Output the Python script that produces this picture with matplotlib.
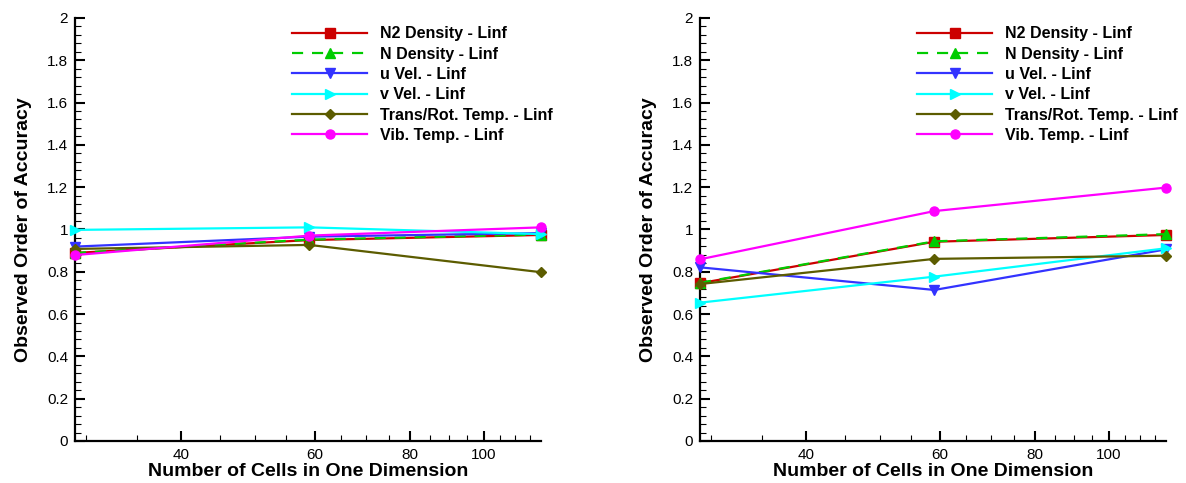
import matplotlib
matplotlib.use('agg')
import matplotlib.pyplot as plt
import matplotlib.ticker as ticker

# grid sizes used for the refinement study
cells = [29, 59, 119]

# observed order of accuracy, left case
left_n2 = [0.889, 0.950, 0.974]
left_n = [0.889, 0.952, 0.976]
left_u = [0.919, 0.966, 0.983]
left_v = [0.998, 1.010, 0.978]
left_trans = [0.908, 0.927, 0.798]
left_vib = [0.879, 0.971, 1.010]

# observed order of accuracy, right case
right_n2 = [0.746, 0.942, 0.974]
right_n = [0.748, 0.944, 0.978]
right_u = [0.821, 0.714, 0.906]
right_v = [0.654, 0.777, 0.911]
right_trans = [0.742, 0.861, 0.876]
right_vib = [0.859, 1.087, 1.198]

labels = ["N2 Density - Linf", "N Density - Linf", "u Vel. - Linf",
          "v Vel. - Linf", "Trans/Rot. Temp. - Linf", "Vib. Temp. - Linf"]

styles = [
    dict(color="#cc0000", marker="s", linestyle="-", mfc="#cc0000", mec="#cc0000"),
    dict(color="#00cc00", marker="^", linestyle=(0, (5, 4)), mfc="#00cc00", mec="#00cc00"),
    dict(color="#3333ff", marker="v", linestyle="-", mfc="#3333ff", mec="#3333ff"),
    dict(color="#00ffff", marker=">", linestyle="-", mfc="#00ffff", mec="#00ffff"),
    dict(color="#5c5c00", marker="D", linestyle="-", mfc="#5c5c00", mec="#5c5c00", markersize=5),
    dict(color="#ff00ff", marker="o", linestyle="-", mfc="#ff00ff", mec="#ff00ff"),
]

font = "Liberation Sans"
plt.rcParams['font.family'] = [font, 'DejaVu Sans']


def makePanel(ax, series):
    for y, label, style in zip(series, labels, styles):
        kw = dict(markersize=6.5, linewidth=1.6)
        kw.update(style)
        ax.plot(cells, y, label=label, clip_on=False, zorder=3, **kw)

    ax.set_xscale("log")
    ax.set_xlim(cells[0], cells[-1])
    ax.set_ylim(0, 2)

    ax.xaxis.set_major_locator(ticker.FixedLocator([40, 60, 80, 100]))
    ax.xaxis.set_minor_locator(ticker.FixedLocator([30, 35, 45, 50, 55, 65, 70, 75, 85, 90, 95, 105, 110, 115]))
    ax.xaxis.set_major_formatter(ticker.StrMethodFormatter('{x:.0f}'))
    ax.xaxis.set_minor_formatter(ticker.NullFormatter())
    ax.yaxis.set_major_locator(ticker.MultipleLocator(0.2))
    ax.yaxis.set_minor_locator(ticker.MultipleLocator(0.04))
    ax.yaxis.set_major_formatter(ticker.FuncFormatter(lambda v, p: f"{v:g}"))

    for side in ["top", "right"]:
        ax.spines[side].set_visible(False)
    for side in ["left", "bottom"]:
        ax.spines[side].set_linewidth(1.6)

    ax.tick_params(which="major", direction="in", length=7, width=1.5, labelsize=11, pad=5)
    ax.tick_params(which="minor", direction="in", length=4.5, width=0.8)

    ax.set_xlabel("Number of Cells in One Dimension", fontsize=14, fontweight="bold", labelpad=1)
    ax.set_ylabel("Observed Order of Accuracy", fontsize=14, fontweight="bold", labelpad=11)

    ax.legend(loc="upper left", bbox_to_anchor=(0.466, 0.980), frameon=False,
              prop={'weight': 'bold', 'size': 11.5}, numpoints=1,
              handlelength=4.7, handletextpad=0.8, labelspacing=0.33,
              borderpad=0, borderaxespad=0)


fig = plt.figure(figsize=(11.86, 4.83), dpi=100)
ax_left = fig.add_axes([0.0632, 0.0870, 0.3929, 0.8758])
ax_right = fig.add_axes([0.5902, 0.0870, 0.3929, 0.8758])

makePanel(ax_left, [left_n2, left_n, left_u, left_v, left_trans, left_vib])
makePanel(ax_right, [right_n2, right_n, right_u, right_v, right_trans, right_vib])

plt.savefig("out.png", dpi=100)
